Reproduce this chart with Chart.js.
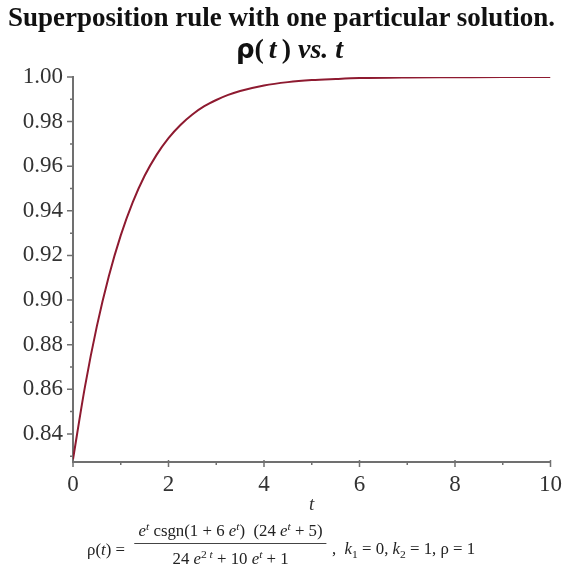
<!DOCTYPE html>
<html>
<head>
<meta charset="utf-8">
<script src="https://cdn.jsdelivr.net/npm/chart.js@4.4.1/dist/chart.umd.min.js"></script>
<style>
  html, body { margin: 0; padding: 0; background: #fff; }
  #wrap { position: relative; width: 571px; height: 575px; }
  #chart { position: absolute; left: 0; top: 0; }
  .txt { position: absolute; font-family: "Liberation Serif", serif; color: #111; white-space: nowrap; }
  #title1 { left: -4px; width: 571px; top: 2px; text-align: center; font-size: 27px; font-weight: bold; }
  #title2 { left: 4px; width: 571px; top: 33px; text-align: center; font-size: 28px; font-weight: bold; }
  #title2 .rho { font-family: "DejaVu Sans", sans-serif; font-style: normal; font-size: 26px; }
  #title2 i { font-style: italic; }
  #title2 .sp { display: inline-block; width: 5px; }
  #xtitle { left: 309px; top: 493px; font-size: 19px; font-style: italic; color: #333; }
  #formula { left: 87px; top: 520px; font-size: 16px; color: #222; display: flex; align-items: center;
             transform: scaleX(1.05); transform-origin: left center; }
  #formula .side { position: relative; top: 6px; }
  .frac { display: inline-flex; flex-direction: column; align-items: center; margin: 0 5px; }
  .frac .num { padding: 0 4px 3px 4px; border-bottom: 1px solid #444; }
  .frac .den { padding: 4px 2px 0 2px; }
  sup, sub { font-size: 11px; }
  .gap { display: inline-block; width: 8px; }
</style>
</head>
<body>
<div id="wrap">
  <canvas id="chart" width="571" height="575"></canvas>
  <div class="txt" id="title1">Superposition rule with one particular solution.</div>
  <div class="txt" id="title2"><span class="rho">ρ</span>(<span class="sp"></span><i>t</i><span class="sp"></span>) <i>vs. t</i></div>
  <div class="txt" id="xtitle">t</div>
  <div class="txt" id="formula">
    <span class="side">ρ(<i>t</i>) =&nbsp;</span>
    <span class="frac">
      <span class="num"><i>e</i><sup><i>t</i></sup> csgn(1 + 6 <i>e</i><sup><i>t</i></sup>)<span class="gap"></span>(24 <i>e</i><sup><i>t</i></sup> + 5)</span>
      <span class="den">24 <i>e</i><sup>2 <i>t</i></sup> + 10 <i>e</i><sup><i>t</i></sup> + 1</span>
    </span>
    <span class="side">, &nbsp;<i>k</i><sub>1</sub> = 0, <i>k</i><sub>2</sub> = 1, ρ = 1</span>
  </div>
</div>
<script>
// values
const tValues = [0, 0.25, 0.5, 0.75, 1, 1.25, 1.5, 1.75, 2, 2.25, 2.5, 2.75, 3, 3.25, 3.5, 4, 4.5, 5, 5.5, 6, 7, 8, 9, 10];
const rhoValues = [0.8286, 0.8611, 0.8883, 0.9107, 0.9290, 0.9438, 0.9557, 0.9651, 0.9726, 0.9785, 0.9832, 0.9869,
                   0.9897, 0.9920, 0.9937, 0.9962, 0.9977, 0.9986, 0.9991, 0.9995, 0.9998, 0.9999, 1.0000, 1.0000];

const xMajorTicks = [0, 2, 4, 6, 8, 10];
const xMinorTicks = [1, 3, 5, 7, 9];
const yMajorTicks = [0.84, 0.86, 0.88, 0.90, 0.92, 0.94, 0.96, 0.98, 1.00];
const yMinorTicks = [0.83, 0.85, 0.87, 0.89, 0.91, 0.93, 0.95, 0.97, 0.99];

const axisColor = '#707070';
const tickFont = { family: 'Liberation Serif', size: 23 };

// draws major / minor tick marks with the scales' own pixel mapping
const tickMarks = {
    id: 'tickMarks',
    afterDraw(chart) {
        const ctx = chart.ctx;
        const x = chart.scales.x, y = chart.scales.y;
        ctx.save();
        ctx.strokeStyle = axisColor;
        ctx.lineWidth = 1.5;
        ctx.beginPath();
        xMajorTicks.forEach(v => {
            const px = x.getPixelForValue(v);
            ctx.moveTo(px, x.top - 2); ctx.lineTo(px, x.top + 5);
        });
        xMinorTicks.forEach(v => {
            const px = x.getPixelForValue(v);
            ctx.moveTo(px, x.top); ctx.lineTo(px, x.top + 3);
        });
        yMajorTicks.forEach(v => {
            const py = y.getPixelForValue(v);
            ctx.moveTo(y.right - 6, py); ctx.lineTo(y.right, py);
        });
        yMinorTicks.forEach(v => {
            const py = y.getPixelForValue(v);
            ctx.moveTo(y.right - 3, py); ctx.lineTo(y.right, py);
        });
        ctx.stroke();
        ctx.restore();
    }
};

new Chart(document.getElementById('chart').getContext('2d'), {
    type: 'line',
    data: {
        datasets: [{
            data: tValues.map((t, i) => ({ x: t, y: rhoValues[i] })),
            borderColor: '#8e1a30',
            borderWidth: 2,
            pointRadius: 0,
            cubicInterpolationMode: 'monotone',
            fill: false
        }]
    },
    options: {
        responsive: false,
        animation: false,
        layout: { padding: { left: 0, right: 20, top: 77, bottom: 0 } },
        plugins: {
            legend: { display: false },
            tooltip: { enabled: false },
            title: { display: false }
        },
        scales: {
            x: {
                type: 'linear',
                min: 0,
                max: 10,
                afterFit: s => { s.height = 113; },
                afterBuildTicks: s => { s.ticks = xMajorTicks.map(v => ({ value: v })); },
                grid: { display: true, drawOnChartArea: false, drawTicks: false },
                border: { display: true, color: axisColor, width: 2 },
                ticks: { font: tickFont, color: '#333', padding: 9, maxRotation: 0,
                    callback: v => String(v) }
            },
            y: {
                type: 'linear',
                min: 0.8274,
                max: 1.0,
                afterFit: s => { s.width = 73; },
                afterBuildTicks: s => { s.ticks = yMajorTicks.map(v => ({ value: v })); },
                grid: { display: true, drawOnChartArea: false, drawTicks: false },
                border: { display: true, color: axisColor, width: 2 },
                ticks: { font: tickFont, color: '#333', padding: 10,
                    callback: v => v.toFixed(2) }
            }
        }
    },
    plugins: [tickMarks]
});
</script>
</body>
</html>
